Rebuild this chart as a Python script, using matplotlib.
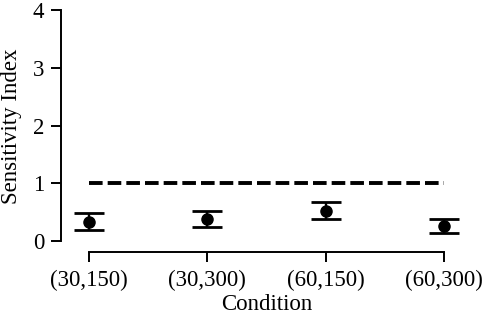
import numpy as np
import matplotlib.pyplot as plt

plt.rcParams['font.family'] = ['Liberation Serif', 'DejaVu Serif']

conditions = ['(30,150)', '(30,300)', '(60,150)', '(60,300)']
means = [0.33, 0.38, 0.52, 0.26]
upper = [0.48, 0.52, 0.67, 0.39]
lower = [0.19, 0.24, 0.39, 0.14]
reference = 1.0

x = np.arange(1, len(conditions) + 1)
means = np.array(means)
err = [means - np.array(lower), np.array(upper) - means]

fig = plt.figure(figsize=(4.84, 3.17), dpi=100)
ax = fig.add_axes([61 / 484, (317 - 252) / 317, (472 - 61) / 484, (252 - 1) / 317])

ax.errorbar(x, means, yerr=err, fmt='o', color='black', ms=8,
            elinewidth=1.7, capsize=11, capthick=2)
ax.plot([x[0], x[-1]], [reference, reference], color='black', lw=2.8,
        dashes=(3.5, 1.3))

ax.set_xlim(0.763, 4.237)
ax.set_ylim(-0.19, 4.156)
ax.set_xticks(x)
ax.set_xticklabels(conditions)
ax.set_yticks([0, 1, 2, 3, 4])

for s in ['top', 'right']:
    ax.spines[s].set_visible(False)
ax.spines['left'].set_bounds(0, 4)
ax.spines['bottom'].set_bounds(1, 4)
ax.spines['left'].set_linewidth(1.4)
ax.spines['bottom'].set_linewidth(1.4)
ax.tick_params(length=7, width=1.4, labelsize=16.5)
ax.tick_params(axis='x', pad=6)
ax.tick_params(axis='y', pad=5)

ax.set_xlabel('Condition', fontsize=16.5, labelpad=2)
ax.set_ylabel('Sensitivity Index', fontsize=16.5, labelpad=8)

plt.savefig('out.png', dpi=100)
